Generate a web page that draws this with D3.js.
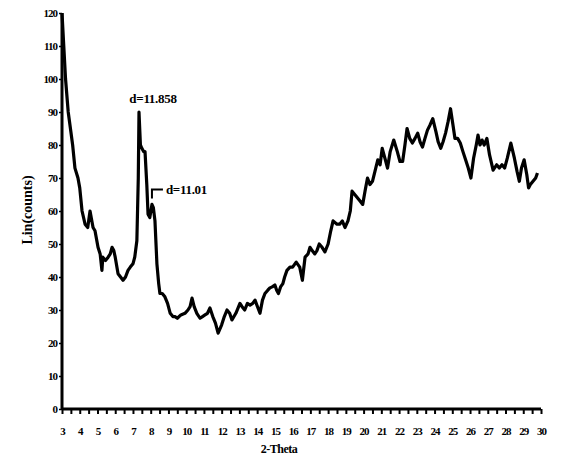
<!DOCTYPE html>
<html>
<head>
<meta charset="utf-8">
<script src="https://cdn.jsdelivr.net/npm/d3@7"></script>
<style>
  body { margin: 0; background: #fff; }
  svg text { font-family: "Liberation Serif", "DejaVu Serif", serif; font-weight: bold; fill: #000; }
</style>
</head>
<body>
<div id="chart"></div>
<script>
// chart size
var svgWidth = 574;
var svgHeight = 465;

// plot box
var margin = { top: 13, right: 33, bottom: 56, left: 62 };
var width = svgWidth - margin.left - margin.right;
var height = svgHeight - margin.top - margin.bottom;

// 2-theta positions and counts
var theta = [3.0, 3.1, 3.2, 3.35, 3.5, 3.6, 3.73, 3.9, 4.0, 4.13, 4.3, 4.45, 4.58, 4.75, 4.86, 5.03,
  5.15, 5.25, 5.3, 5.45, 5.6, 5.72, 5.82, 5.92, 6.0, 6.16, 6.3, 6.44, 6.58, 6.72, 6.85, 7.0, 7.1, 7.22,
  7.3, 7.34, 7.42, 7.5, 7.6, 7.68, 7.78, 7.85, 7.95, 8.07, 8.15, 8.24, 8.35, 8.45, 8.52, 8.65, 8.8,
  8.95, 9.1, 9.25, 9.37, 9.5, 9.7, 9.93, 10.1, 10.22, 10.33, 10.45, 10.6, 10.78, 10.92, 11.06, 11.2,
  11.34, 11.5, 11.65, 11.8, 12.0, 12.15, 12.3, 12.45, 12.58, 12.8, 13.03, 13.15, 13.3, 13.45, 13.6,
  13.75, 13.88, 14.02, 14.16, 14.3, 14.44, 14.6, 14.72, 14.85, 15.0, 15.1, 15.2, 15.32, 15.45, 15.55,
  15.68, 15.85, 16.0, 16.2, 16.4, 16.55, 16.7, 16.87, 16.98, 17.1, 17.25, 17.37, 17.5, 17.66, 17.82,
  18.0, 18.15, 18.28, 18.5, 18.65, 18.8, 18.95, 19.12, 19.25, 19.35, 19.5, 19.65, 19.8, 19.95, 20.08,
  20.22, 20.36, 20.5, 20.64, 20.8, 20.93, 21.05, 21.2, 21.35, 21.5, 21.7, 21.9, 22.05, 22.2, 22.33,
  22.45, 22.6, 22.75, 22.9, 23.05, 23.18, 23.32, 23.46, 23.6, 23.74, 23.9, 24.08, 24.2, 24.35, 24.48,
  24.62, 24.76, 24.9, 25.04, 25.15, 25.3, 25.45, 25.6, 25.75, 25.9, 26.05, 26.2, 26.35, 26.45, 26.56,
  26.68, 26.8, 26.95, 27.1, 27.3, 27.5, 27.65, 27.8, 27.95, 28.1, 28.3, 28.5, 28.65, 28.78, 28.9,
  29.05, 29.2, 29.3, 29.4, 29.55, 29.7, 29.8, 29.9];
var counts = [120, 110, 100, 90, 84, 80, 73, 70, 67, 60, 56, 55, 60, 55, 54, 49,
  47, 42, 46, 45, 46, 47, 49, 48, 46, 41, 40, 39, 40, 42, 43, 44, 46, 51,
  70, 90, 80, 79, 78, 78, 68, 59, 58, 62, 61, 57, 44, 38, 35, 35, 34,
  32, 29, 28, 28, 27.5, 28.5, 29, 30, 31, 33.6, 31, 29, 27.5, 28, 28.5, 29,
  30.6, 28, 26, 23, 25.5, 28, 30, 29, 27, 29, 32, 31, 30, 32, 31.5,
  32, 33, 31, 29, 33, 35, 36, 36.7, 37, 37.6, 36, 35, 37, 38, 40,
  42, 43, 43, 44.5, 43, 39, 46, 47, 49, 48, 47, 48, 50, 49,
  47.6, 50, 54, 57, 56, 56, 57, 55, 57, 60, 66, 65, 64, 63, 62,
  66, 70, 68, 69, 72, 75.5, 74, 79, 76, 73, 78, 81.5, 78, 75, 75,
  80, 85, 82, 80.6, 82, 83.6, 81, 79.4, 82, 84.5, 86, 88, 84, 81, 79,
  81, 83.6, 87, 91, 86, 82, 82, 80.6, 78, 75.5, 73, 70, 76, 80, 83,
  80, 81.5, 80, 82, 77, 72.4, 74, 73, 74, 73, 76, 80.6, 76, 72, 69,
  73, 75.5, 71, 67, 68, 69, 70, 71.5];

// axis ticks
var xTickLabels = d3.range(3, 31);
var yTickLabels = d3.range(0, 121, 10);

// annotations on the two low angle peaks
var peakLabels = ["d=11.858", "d=11.01"];
var peakTheta = [7.34, 8.07];
var peakCounts = [90, 62];

var data = theta.map((t, i) => ({ t: t, c: counts[i] }));

var svg = d3.select("#chart")
  .append("svg")
  .attr("width", svgWidth)
  .attr("height", svgHeight);

var chartGroup = svg.append("g")
  .attr("transform", `translate(${margin.left}, ${margin.top})`);

// scales
var xScale = d3.scaleLinear().domain([3, 30]).range([0, width]);
var yScale = d3.scaleLinear().domain([0, 120]).range([height, 0]);

// x axis, a tick every half degree, label every degree
var bottomAxis = d3.axisBottom(xScale)
  .tickValues(d3.range(3, 30.01, 0.5))
  .tickSize(5)
  .tickFormat(d => Number.isInteger(d) ? d : "");
var xAxis = chartGroup.append("g")
  .attr("transform", `translate(0, ${height})`)
  .call(bottomAxis);
xAxis.select(".domain").attr("stroke-width", 3).attr("d", `M0,0H${width}`);
xAxis.selectAll(".tick line").attr("stroke-width", 2);
xAxis.selectAll("text")
  .attr("y", 18)
  .style("font-size", "11px")
  .style("letter-spacing", "-1px");

// y axis
var leftAxis = d3.axisLeft(yScale)
  .tickValues(yTickLabels)
  .tickSize(3)
  .tickPadding(2);
var yAxis = chartGroup.append("g").call(leftAxis);
yAxis.select(".domain").attr("stroke-width", 3).attr("d", `M0,0V${height}`);
yAxis.selectAll(".tick line").attr("stroke-width", 1.5);
yAxis.selectAll("text")
  .style("font-size", "11px")
  .style("letter-spacing", "-1px");

// axis labels
chartGroup.append("text")
  .attr("transform", "rotate(-90)")
  .attr("x", 0 - 197)
  .attr("y", -30)
  .attr("text-anchor", "middle")
  .style("font-size", "14px")
  .text("Lin(counts)");

chartGroup.append("text")
  .attr("x", 217)
  .attr("y", height + 44)
  .attr("text-anchor", "middle")
  .style("font-size", "12px")
  .style("letter-spacing", "-0.5px")
  .text("2-Theta");

// the pattern
var line = d3.line()
  .x(d => xScale(d.t))
  .y(d => yScale(d.c));

chartGroup.append("path")
  .datum(data)
  .attr("d", line)
  .attr("fill", "none")
  .attr("stroke", "#000")
  .attr("stroke-width", 3.2)
  .attr("stroke-linejoin", "round");

// peak labels
chartGroup.append("text")
  .attr("x", xScale(peakTheta[0]) + 14)
  .attr("y", yScale(peakCounts[0]) - 9)
  .attr("text-anchor", "middle")
  .style("font-size", "13px")
  .style("letter-spacing", "-0.3px")
  .text(peakLabels[0]);

var lx = xScale(peakTheta[1]);
var ly = yScale(peakCounts[1]);
chartGroup.append("path")
  .attr("d", `M${lx},${ly - 6}V${ly - 15}H${lx + 11}`)
  .attr("fill", "none")
  .attr("stroke", "#000")
  .attr("stroke-width", 2);
chartGroup.append("text")
  .attr("x", lx + 14)
  .attr("y", ly - 10)
  .style("font-size", "13px")
  .style("letter-spacing", "-0.3px")
  .text(peakLabels[1]);
</script>
</body>
</html>
